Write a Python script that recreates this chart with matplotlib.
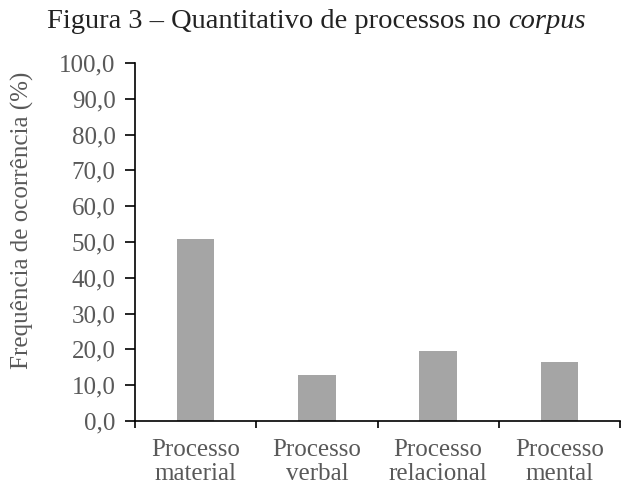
import matplotlib.pyplot as plt

# dados
categorias = ['Processo\nmaterial', 'Processo\nverbal', 'Processo\nrelacional', 'Processo\nmental']
frequencia = [50.8, 12.9, 19.6, 16.6]
yticks = [0, 10, 20, 30, 40, 50, 60, 70, 80, 90, 100]

plt.rcParams['font.family'] = ['Liberation Serif', 'DejaVu Serif']
gray = '#595959'
fs = 18

fig = plt.figure(figsize=(6.21, 4.88), dpi=100)
ax = fig.add_axes([0.2174, 0.1373, 0.7810, 0.7336])

pos = list(range(len(categorias)))
ax.bar(pos, frequencia, width=0.31, color='#a5a5a5', zorder=2)

ax.set_xlim(-0.5, len(categorias) - 0.5)
ax.set_ylim(0, 100)
ax.set_yticks(yticks)
ax.set_yticklabels([('%.1f' % v).replace('.', ',') for v in yticks], fontsize=fs, color=gray)
ax.set_xticks(pos)
ax.set_xticklabels(categorias, fontsize=fs, color=gray, linespacing=1.12)
ax.set_xticks([p - 0.5 for p in pos] + [len(categorias) - 0.5], minor=True)
ax.tick_params(axis='x', which='major', length=0, pad=13)
ax.tick_params(axis='x', which='minor', length=5, width=1.2, color='black', direction='out')
ax.tick_params(axis='y', length=7, width=1.2, color='black', pad=7)

ax.spines['top'].set_visible(False)
ax.spines['right'].set_visible(False)
ax.spines['left'].set_linewidth(1.2)
ax.spines['bottom'].set_linewidth(1.2)

ax.set_ylabel('Frequência de ocorrência (%)', fontsize=fs, color=gray, va='center')
ax.yaxis.set_label_coords(-0.233, 0.561)

# titulo com "corpus" em italico
t1 = fig.text(0.5, 0.955, 'Figura 3 – Quantitativo de processos no ', fontsize=20.5,
              color='#222222', ha='center', va='center')
fig.canvas.draw()
r = fig.canvas.get_renderer()
bb = t1.get_window_extent(renderer=r)
t2 = fig.text(0, 0, 'corpus', fontsize=20.5, color='#222222', style='italic', va='center')
bb2 = t2.get_window_extent(renderer=r)
total = bb.width + bb2.width
x0 = 0.5 * fig.bbox.width - total / 2 + 6
t1.set_ha('left')
t1.set_x(x0 / fig.bbox.width)
t2.set_x((x0 + bb.width) / fig.bbox.width)
t2.set_y(0.955)

plt.savefig('out.png', dpi=100)
plt.close()
